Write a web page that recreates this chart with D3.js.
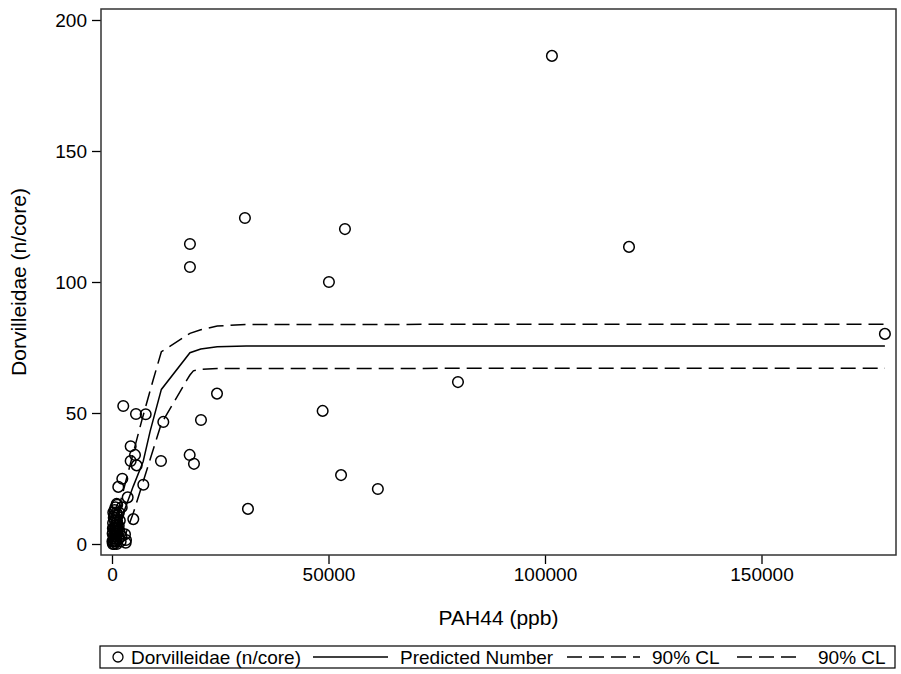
<!DOCTYPE html>
<html lang="en">
<head>
<meta charset="UTF-8"/>
<title>Dorvilleidae vs PAH44</title>
<script src="https://d3js.org/d3.v7.min.js"></script>
<style>
  body { margin: 0; background: #fff; }
  text { font-family: Arial, "Liberation Sans", sans-serif; fill: #000; }
</style>
</head>
<body>
<div id="chart"></div>
<script>
// observed points: PAH44 (ppb) and Dorvilleidae (n/core)
var pahX = [101600, 119400, 178500, 79900, 53800, 50100, 48650, 52900, 61400, 31400, 30700,
  18000, 18000, 24250, 20550, 11850, 7780, 5540, 2600, 4310, 5310, 4310, 5700, 11310,
  17940, 18930, 2380, 1450, 7230, 3620, 1080, 2240, 4920, 3000, 3160, 3230,
  200, 300, 500, 400, 700, 900, 1100, 150, 600, 800, 1000, 1200, 1300, 250, 450, 650,
  850, 1050, 1400, 1600, 300, 500, 700, 900, 1100, 1500, 1700, 1800, 2000, 2200, 350,
  550, 750, 950, 1150, 1350, 1550, 100, 200, 400, 600, 800, 1000, 1200];
var dorvY = [186.3, 113.4, 80.2, 61.8, 120.2, 100, 50.8, 26.3, 21, 13.4, 124.4,
  114.5, 105.7, 57.4, 47.3, 46.6, 49.5, 49.6, 52.7, 37.3, 34, 31.7, 30, 31.7,
  34, 30.6, 24.9, 21.8, 22.6, 17.8, 15.3, 14, 9.5, 3.7, 0.5, 1.5,
  0, 1, 0, 2, 1, 3, 0, 4, 5, 6, 2, 4, 7, 8, 6, 9,
  10, 8, 11, 12, 12, 11, 3, 7, 5, 2, 5, 9, 1, 3, 3,
  2, 4, 1, 9, 5, 7, 1, 6, 10, 13, 14, 12, 15];

// fitted curve and 90% confidence limits
var predX = [0, 1200, 4900, 7200, 8800, 11400, 18000, 20500, 24300, 31000, 178500];
var predY = [0, 5.3, 22, 31.5, 43, 59, 73, 74.4, 75.3, 75.6, 75.6];
var upperX = [0, 1850, 4900, 6900, 9500, 11400, 18000, 20500, 24300, 31000, 178500];
var upperY = [4, 15.6, 34.7, 47.3, 62.6, 73.4, 80.4, 81.8, 83.2, 83.8, 83.9];
var lowerX = [2300, 4900, 11400, 17300, 18000, 18800, 20500, 24300, 178500];
var lowerY = [0, 11.7, 46, 62.6, 64.5, 66.1, 66.7, 67, 67.1];

var xTicks = [0, 50000, 100000, 150000];
var yTicks = [0, 50, 100, 150, 200];

var width = 901, height = 674;
var frame = { left: 101, top: 9, right: 896, bottom: 555 };

var svg = d3.select("#chart").append("svg")
  .attr("width", width)
  .attr("height", height);

var x = d3.scaleLinear().domain([0, 150000]).range([112, 761.5]);
var y = d3.scaleLinear().domain([0, 200]).range([544, 20]);

svg.append("clipPath").attr("id", "clip")
  .append("rect")
  .attr("x", frame.left).attr("y", frame.top)
  .attr("width", frame.right - frame.left)
  .attr("height", frame.bottom - frame.top);

// axes
var xAxis = svg.append("g")
  .attr("transform", "translate(0," + frame.bottom + ")")
  .call(d3.axisBottom(x).tickValues(xTicks).tickFormat(d3.format("d")).tickSize(9).tickPadding(4));
var yAxis = svg.append("g")
  .attr("transform", "translate(" + frame.left + ",0)")
  .call(d3.axisLeft(y).tickValues(yTicks).tickSize(9).tickPadding(5));

[xAxis, yAxis].forEach(function(a) {
  a.select(".domain").remove();
  a.selectAll("line").attr("stroke", "#000").attr("stroke-width", 1.3);
  a.selectAll("text").style("font-size", "19px")
    .style("font-family", "Arial, 'Liberation Sans', sans-serif");
});

// frame
svg.append("rect")
  .attr("x", frame.left).attr("y", frame.top)
  .attr("width", frame.right - frame.left)
  .attr("height", frame.bottom - frame.top)
  .attr("fill", "none")
  .attr("stroke", "#333")
  .attr("stroke-width", 1.5);

// curves
var plot = svg.append("g").attr("clip-path", "url(#clip)");

function drawLine(xs, ys, dash) {
  var line = d3.line().x(function(d) { return x(d[0]); }).y(function(d) { return y(d[1]); });
  plot.append("path")
    .attr("d", line(d3.zip(xs, ys)))
    .attr("fill", "none")
    .attr("stroke", "#000")
    .attr("stroke-width", 1.5)
    .attr("stroke-dasharray", dash);
}
drawLine(predX, predY, null);
drawLine(upperX, upperY, "15,7");
drawLine(lowerX, lowerY, "15,7");

// observations
plot.selectAll("circle")
  .data(d3.zip(pahX, dorvY))
  .enter()
  .append("circle")
  .attr("cx", function(d) { return x(d[0]); })
  .attr("cy", function(d) { return y(d[1]); })
  .attr("r", 5.3)
  .attr("fill", "none")
  .attr("stroke", "#000")
  .attr("stroke-width", 1.5);

// axis labels
svg.append("text")
  .attr("x", (frame.left + frame.right) / 2)
  .attr("y", 625)
  .attr("text-anchor", "middle")
  .style("font-size", "21px")
  .text("PAH44 (ppb)");

svg.append("text")
  .attr("transform", "translate(26," + (frame.top + frame.bottom) / 2 + ") rotate(-90)")
  .attr("text-anchor", "middle")
  .style("font-size", "21px")
  .text("Dorvilleidae (n/core)");

// legend
var legend = svg.append("g");
legend.append("rect")
  .attr("x", 100).attr("y", 646)
  .attr("width", 795).attr("height", 22)
  .attr("fill", "none")
  .attr("stroke", "#000")
  .attr("stroke-width", 1.2);

var ly = 657;
legend.append("circle").attr("cx", 118).attr("cy", ly).attr("r", 5)
  .attr("fill", "none").attr("stroke", "#000").attr("stroke-width", 1.3);
legend.append("text").attr("x", 131).attr("y", ly + 7).style("font-size", "19px").text("Dorvilleidae (n/core)");

legend.append("line").attr("x1", 313).attr("x2", 388).attr("y1", ly).attr("y2", ly)
  .attr("stroke", "#000").attr("stroke-width", 1.5);
legend.append("text").attr("x", 400).attr("y", ly + 7).style("font-size", "19px").text("Predicted Number");

legend.append("line").attr("x1", 567).attr("x2", 640).attr("y1", ly).attr("y2", ly)
  .attr("stroke", "#000").attr("stroke-width", 1.5).attr("stroke-dasharray", "15,7");
legend.append("text").attr("x", 652).attr("y", ly + 7).style("font-size", "19px").text("90% CL");

legend.append("line").attr("x1", 737).attr("x2", 801).attr("y1", ly).attr("y2", ly)
  .attr("stroke", "#000").attr("stroke-width", 1.5).attr("stroke-dasharray", "15,7");
legend.append("text").attr("x", 818).attr("y", ly + 7).style("font-size", "19px").text("90% CL");
</script>
</body>
</html>
